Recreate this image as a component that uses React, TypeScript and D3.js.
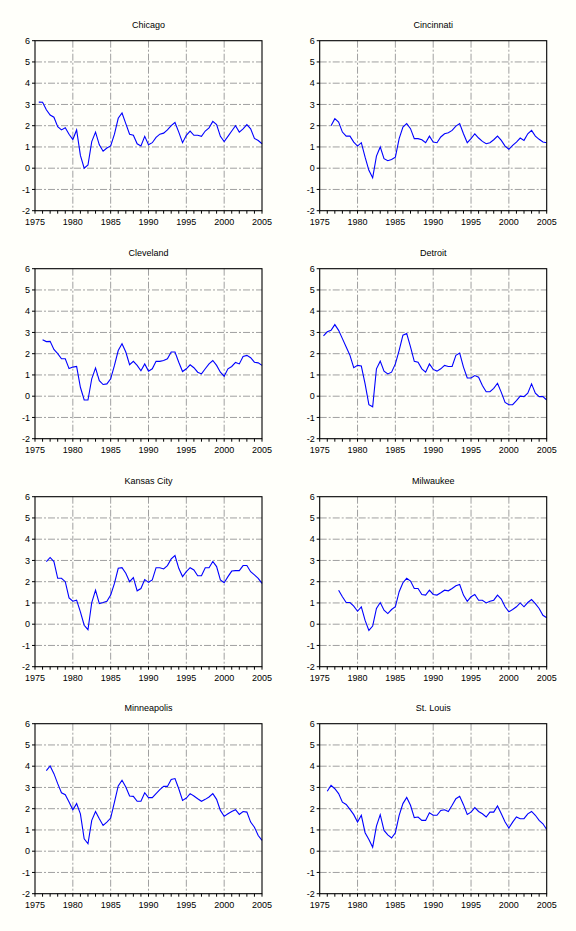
import * as d3 from 'd3'

const halfYears = [
  1975.5, 1976, 1976.5, 1977, 1977.5, 1978, 1978.5, 1979, 1979.5, 1980,
  1980.5, 1981, 1981.5, 1982, 1982.5, 1983, 1983.5, 1984, 1984.5, 1985,
  1985.5, 1986, 1986.5, 1987, 1987.5, 1988, 1988.5, 1989, 1989.5, 1990,
  1990.5, 1991, 1991.5, 1992, 1992.5, 1993, 1993.5, 1994, 1994.5, 1995,
  1995.5, 1996, 1996.5, 1997, 1997.5, 1998, 1998.5, 1999, 1999.5, 2000,
  2000.5, 2001, 2001.5, 2002, 2002.5, 2003, 2003.5, 2004, 2004.5, 2005,
]

const chicago = [
  3.11, 3.10, 2.75, 2.50, 2.40, 1.95, 1.80, 1.90, 1.60, 1.35,
  1.80, 0.60, 0.00, 0.15, 1.25, 1.70, 1.10, 0.80, 0.95, 1.05,
  1.60, 2.35, 2.60, 2.10, 1.60, 1.55, 1.15, 1.05, 1.50, 1.10,
  1.20, 1.45, 1.60, 1.65, 1.80, 2.00, 2.15, 1.70, 1.20, 1.55,
  1.75, 1.55, 1.55, 1.50, 1.75, 1.90, 2.20, 2.05, 1.50, 1.25,
  1.50, 1.75, 2.00, 1.70, 1.85, 2.05, 1.85, 1.40, 1.30, 1.15,
]
const cincinnati = [
  null, null, 2.00, 2.33, 2.17, 1.70, 1.51, 1.51, 1.23, 1.04,
  1.20, 0.52, -0.10, -0.45, 0.57, 1.00, 0.45, 0.35, 0.41, 0.52,
  1.39, 1.94, 2.10, 1.86, 1.39, 1.39, 1.34, 1.20, 1.51, 1.23,
  1.20, 1.47, 1.62, 1.67, 1.78, 1.98, 2.10, 1.62, 1.20, 1.39,
  1.62, 1.42, 1.26, 1.15, 1.20, 1.34, 1.51, 1.31, 1.04, 0.89,
  1.07, 1.23, 1.42, 1.31, 1.62, 1.78, 1.51, 1.36, 1.23, 1.20,
]
const cleveland = [
  null, 2.66, 2.57, 2.58, 2.20, 2.00, 1.76, 1.76, 1.30, 1.37,
  1.40, 0.42, -0.18, -0.18, 0.82, 1.33, 0.73, 0.55, 0.58, 0.82,
  1.45, 2.15, 2.47, 2.08, 1.48, 1.64, 1.45, 1.20, 1.52, 1.18,
  1.29, 1.64, 1.64, 1.68, 1.76, 2.08, 2.08, 1.60, 1.16, 1.29,
  1.48, 1.34, 1.13, 1.05, 1.29, 1.52, 1.68, 1.45, 1.13, 0.94,
  1.29, 1.40, 1.59, 1.52, 1.87, 1.92, 1.81, 1.60, 1.57, 1.45,
]
const detroit = [
  2.84, 3.03, 3.10, 3.37, 3.10, 2.71, 2.32, 1.92, 1.34, 1.45,
  1.42, 0.58, -0.40, -0.50, 1.29, 1.65, 1.18, 1.05, 1.13, 1.52,
  2.16, 2.87, 2.95, 2.32, 1.64, 1.60, 1.29, 1.13, 1.52, 1.26,
  1.18, 1.29, 1.45, 1.40, 1.40, 1.92, 2.03, 1.37, 0.86, 0.86,
  0.97, 0.89, 0.50, 0.21, 0.21, 0.37, 0.61, 0.18, -0.29, -0.40,
  -0.40, -0.21, 0.00, -0.02, 0.14, 0.58, 0.14, -0.02, -0.02, -0.18,
]
const kansasCity = [
  null, null, 2.95, 3.14, 2.95, 2.16, 2.16, 2.00, 1.24, 1.08,
  1.13, 0.58, -0.05, -0.26, 1.02, 1.60, 0.97, 1.02, 1.08, 1.37,
  1.92, 2.63, 2.66, 2.40, 2.00, 2.19, 1.57, 1.68, 2.10, 1.97,
  2.08, 2.66, 2.66, 2.60, 2.76, 3.07, 3.23, 2.63, 2.24, 2.47,
  2.66, 2.55, 2.28, 2.28, 2.66, 2.66, 2.95, 2.71, 2.08, 1.95,
  2.24, 2.50, 2.52, 2.52, 2.76, 2.76, 2.47, 2.32, 2.16, 1.92,
]
const milwaukee = [
  null, null, null, null, 1.60, 1.29, 1.02, 1.02, 0.85, 0.61,
  0.82, 0.18, -0.29, -0.09, 0.74, 1.02, 0.66, 0.50, 0.69, 0.82,
  1.53, 1.95, 2.16, 2.03, 1.68, 1.68, 1.40, 1.37, 1.60, 1.40,
  1.37, 1.48, 1.60, 1.57, 1.68, 1.81, 1.87, 1.37, 1.08, 1.29,
  1.40, 1.13, 1.13, 1.00, 1.08, 1.13, 1.37, 1.18, 0.82, 0.58,
  0.69, 0.82, 1.00, 0.82, 1.02, 1.16, 0.97, 0.74, 0.42, 0.30,
]
const minneapolis = [
  null, null, 3.79, 4.01, 3.65, 3.18, 2.75, 2.66, 2.31, 1.95,
  2.24, 1.76, 0.58, 0.35, 1.45, 1.87, 1.53, 1.21, 1.37, 1.56,
  2.31, 3.07, 3.34, 3.02, 2.60, 2.58, 2.35, 2.35, 2.75, 2.52,
  2.52, 2.71, 2.90, 3.05, 3.05, 3.38, 3.42, 2.94, 2.39, 2.50,
  2.71, 2.60, 2.47, 2.35, 2.44, 2.55, 2.71, 2.44, 1.92, 1.64,
  1.76, 1.87, 1.95, 1.73, 1.87, 1.84, 1.37, 1.13, 0.74, 0.51,
]
const stLouis = [
  null, 2.82, 3.10, 2.94, 2.71, 2.31, 2.20, 1.97, 1.72, 1.37,
  1.69, 0.87, 0.55, 0.19, 1.18, 1.72, 0.98, 0.77, 0.62, 0.87,
  1.69, 2.24, 2.53, 2.16, 1.58, 1.61, 1.45, 1.45, 1.81, 1.69,
  1.69, 1.92, 1.95, 1.87, 2.16, 2.47, 2.58, 2.19, 1.73, 1.84,
  2.05, 1.87, 1.76, 1.61, 1.84, 1.84, 2.13, 1.76, 1.37, 1.09,
  1.37, 1.61, 1.53, 1.53, 1.76, 1.87, 1.69, 1.45, 1.29, 1.02,
]

const panelTitles = ['Chicago', 'Cincinnati', 'Cleveland', 'Detroit', 'Kansas City', 'Milwaukee', 'Minneapolis', 'St. Louis']
const panelSeries = [chicago, cincinnati, cleveland, detroit, kansasCity, milwaukee, minneapolis, stLouis]

const xLabels = [1975, 1980, 1985, 1990, 1995, 2000, 2005]
const xMinor = d3.range(1975, 2006)
const yTicks = [-2, -1, 0, 1, 2, 3, 4, 5, 6]

const W = 576, H = 931
const colLeft = [35, 319.7]
const rowTop = [40.7, 268.7, 496.7, 723.7]
const boxW = 227, boxH = 170
const font = '"Liberation Sans", Arial, sans-serif'
const gridColor = '#a0a0a0'
const dash = '7,2,2,2'
const bg = '#fffffa'

function Panel({ title, values, left, top }: { title: string, values: (number|null)[], left: number, top: number }){
  const x = d3.scaleLinear().domain([1975, 2005]).range([left, left + boxW])
  const y = d3.scaleLinear().domain([-2, 6]).range([top + boxH, top])
  const line = d3.line<number|null>()
    .defined(d => d != null)
    .x((_, i) => x(halfYears[i]))
    .y(d => y(d as number))
  const bottom = top + boxH
  return (
    <g>
      <text x={left + boxW / 2} y={top - 12.5} textAnchor="middle" fontSize={9} fontFamily={font} fill="#000">{title}</text>
      {/* grid */}
      {yTicks.filter(t => t > -2 && t < 6).map(t => (
        <line key={'h' + t} x1={left} x2={left + boxW} y1={y(t)} y2={y(t)} stroke={gridColor} strokeDasharray={dash} />
      ))}
      {xLabels.filter(t => t > 1975 && t < 2005).map(t => (
        <line key={'v' + t} x1={x(t)} x2={x(t)} y1={top} y2={bottom} stroke={gridColor} strokeDasharray={dash} />
      ))}
      <path d={line(values) ?? ''} fill="none" stroke="#0000ff" strokeWidth={1.1} />
      <rect x={left} y={top} width={boxW} height={boxH} fill="none" stroke="#000" strokeWidth={1.1} />
      {/* y axis */}
      {yTicks.map(t => (
        <g key={'y' + t}>
          <line x1={left - 3} x2={left} y1={y(t)} y2={y(t)} stroke="#000" />
          <text x={left - 5} y={y(t)} dy="0.35em" textAnchor="end" fontSize={9} fontFamily={font} fill="#000">{t}</text>
        </g>
      ))}
      {/* x axis */}
      {xMinor.map(t => (
        <line key={'m' + t} x1={x(t)} x2={x(t)} y1={bottom} y2={bottom + 3} stroke="#000" />
      ))}
      {xLabels.map(t => (
        <text key={'l' + t} x={x(t)} y={bottom + 14.5} textAnchor="middle" fontSize={9} fontFamily={font} fill="#000">{t}</text>
      ))}
    </g>
  )
}

export default function App(){
  return (
    <svg width={W} height={H} style={{ position: 'absolute', left: 0, top: 0, background: bg }}>
      <rect x={0} y={0} width={W} height={H} fill={bg} />
      {panelTitles.map((t, i) => (
        <Panel key={t} title={t} values={panelSeries[i]} left={colLeft[i % 2]} top={rowTop[Math.floor(i / 2)]} />
      ))}
    </svg>
  )
}
